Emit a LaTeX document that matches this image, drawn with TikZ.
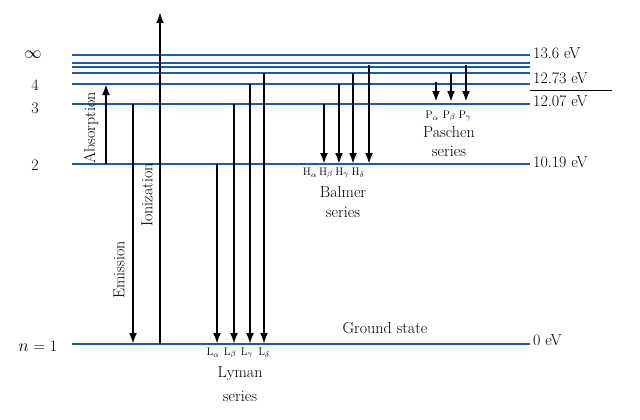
\documentclass[tikz,border=0pt]{standalone}
\usetikzlibrary{arrows.meta}
\definecolor{lvl}{RGB}{30,90,170}
\begin{document}
\begin{tikzpicture}[x=1pt,y=-1pt,
  lev/.style={draw=lvl,line width=1.3pt},
  arr/.style={line width=2.6pt,-{Latex[length=11pt,width=8pt]}},
  lab/.style={font=\fontsize{16}{18}\selectfont,inner sep=0pt},
  sm/.style={font=\fontsize{11}{12}\selectfont,inner sep=0pt}]
\useasboundingbox (0,0) rectangle (640,420);
% levels
\foreach \n/\y/\e in {inf/55/530,l7/63/530,l6/67/530,l5/73/530,l4/84/530,l3/104/530,l2/164/530,l1/344/530}{
  \coordinate (\n L) at (72,\y); \coordinate (\n R) at (\e,\y);
  \draw[lev] (\n L) -- (\n R);}
% left labels
\node[lab] (ninf) at (33,55) {$\infty$};
\node[lab] (n4) at (35,85) {4};
\node[lab] (n3) at (35,108) {3};
\node[lab] (n2) at (35,165) {2};
\node[lab] (n1) at (38,346) {$n$ = 1};
% right labels
\node[lab,anchor=west] (e136) at (533,53) {13.6 eV};
\node[lab,anchor=west] (e1273) at (533,78) {12.73 eV};
\coordinate (ulA) at (530,90); \coordinate (ulB) at (612,90);
\draw[line width=0.7pt] (ulA) -- (ulB);
\node[lab,anchor=west] (e1207) at (533,101) {12.07 eV};
\node[lab,anchor=west] (e1019) at (533,162) {10.19 eV};
\node[lab,anchor=west] (e0) at (533,340) {0 eV};
\node[lab] (gs) at (385,328) {Ground state};
% absorption, emission, ionization
\coordinate (a0) at (106,164); \coordinate (a1) at (106,84);
\draw[arr] (a0) -- (a1);
\node[lab,rotate=90] (abs) at (91,128) {Absorption};
\coordinate (em0) at (133,104); \coordinate (em1) at (133,344);
\draw[arr] (em0) -- (em1);
\node[lab,rotate=90] (emi) at (119,270) {Emission};
\coordinate (io0) at (160,344); \coordinate (io1) at (160,12);
\draw[arr] (io0) -- (io1);
\node[lab,rotate=90] (ion) at (147,195) {Ionization};
% Lyman
\foreach \x/\y [count=\i] in {217/164,234/104,250/84,264/73}{
  \coordinate (ly\i a) at (\x,\y); \coordinate (ly\i b) at (\x,344);
  \draw[arr] (ly\i a) -- (ly\i b);}
\node[sm] (la) at (213,353) {L$_\alpha$};
\node[sm] (lb) at (230,353) {L$_\beta$};
\node[sm] (lg) at (247,353) {L$_\gamma$};
\node[sm] (ld) at (264,353) {L$_\delta$};
\node[lab] (lyman) at (240,374) {Lyman};
\node[lab] (lys) at (240,396) {series};
% Balmer
\foreach \x/\y [count=\i] in {324/104,339/84,353/73,369/65}{
  \coordinate (ba\i a) at (\x,\y); \coordinate (ba\i b) at (\x,164);
  \draw[arr] (ba\i a) -- (ba\i b);}
\node[sm] (ha) at (310,173) {H$_\alpha$};
\node[sm] (hb) at (326,173) {H$_\beta$};
\node[sm] (hg) at (342,173) {H$_\gamma$};
\node[sm] (hd) at (358,173) {H$_\delta$};
\node[lab] (balmer) at (343,192) {Balmer};
\node[lab] (bas) at (343,212) {series};
% Paschen
\foreach \x/\y [count=\i] in {436/82,451/73,466/65}{
  \coordinate (pa\i a) at (\x,\y); \coordinate (pa\i b) at (\x,102);
  \draw[arr] (pa\i a) -- (pa\i b);}
\node[sm] (pa) at (432,116) {P$_\alpha$};
\node[sm] (pb) at (449,116) {P$_\beta$};
\node[sm] (pg) at (465,116) {P$_\gamma$};
\node[lab] (paschen) at (449,132) {Paschen};
\node[lab] (pas) at (449,151) {series};
\end{tikzpicture}
\end{document}
